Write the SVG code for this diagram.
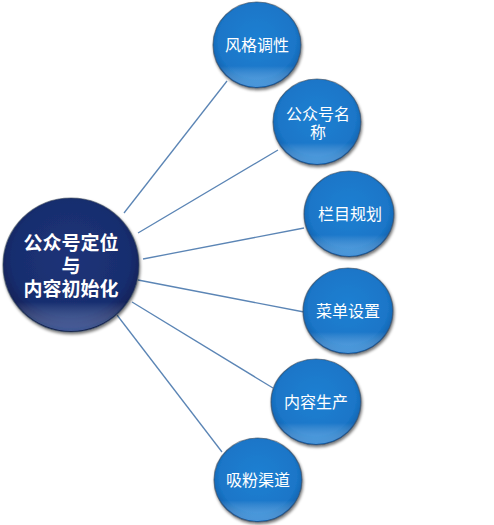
<svg xmlns="http://www.w3.org/2000/svg" width="494" height="525" viewBox="0 0 494 525">
<defs>
<radialGradient id="gBlue" cx="50%" cy="45%" r="55%">
<stop offset="0" stop-color="#1f80d2"/>
<stop offset="0.8" stop-color="#1a76c8"/>
<stop offset="0.93" stop-color="#1568b6"/>
<stop offset="1" stop-color="#0f55a0"/>
</radialGradient>
<linearGradient id="gBlueHi" x1="0" y1="0" x2="0" y2="1">
<stop offset="0" stop-color="#ffffff" stop-opacity="0"/>
<stop offset="0.75" stop-color="#ffffff" stop-opacity="0"/>
<stop offset="1" stop-color="#6fc0ff" stop-opacity="0.55"/>
</linearGradient>
<radialGradient id="gNavy" cx="50%" cy="45%" r="55%">
<stop offset="0" stop-color="#1d3479"/>
<stop offset="0.8" stop-color="#182d6e"/>
<stop offset="0.94" stop-color="#12245c"/>
<stop offset="1" stop-color="#0c1a48"/>
</radialGradient>
<linearGradient id="gNavyHi" x1="0" y1="0" x2="0" y2="1">
<stop offset="0" stop-color="#ffffff" stop-opacity="0"/>
<stop offset="0.78" stop-color="#ffffff" stop-opacity="0"/>
<stop offset="1" stop-color="#6f8fd8" stop-opacity="0.5"/>
</linearGradient>
<filter id="sh" x="-20%" y="-20%" width="140%" height="140%">
<feGaussianBlur in="SourceAlpha" stdDeviation="1.5"/>
<feOffset dx="1" dy="1.5"/>
<feComponentTransfer><feFuncA type="linear" slope="0.55"/></feComponentTransfer>
<feMerge><feMergeNode/><feMergeNode in="SourceGraphic"/></feMerge>
</filter>
</defs>
<style>
.link{stroke:#5b85b5;stroke-width:1.3;fill:none}
.rim{stroke:#3a4a5c;stroke-width:1.2;stroke-opacity:0.6}
.lbl{font-family:"Liberation Sans","Noto Sans CJK SC",sans-serif;font-size:16px;fill:#ffffff;text-anchor:middle}
.big{font-family:"Liberation Sans","Noto Sans CJK SC",sans-serif;font-size:19px;font-weight:bold;fill:#ffffff;text-anchor:middle}
</style>
<rect width="494" height="525" fill="#ffffff"/>
<g id="connectors">
<line class="link" x1="124" y1="213" x2="227" y2="81"/>
<line class="link" x1="138" y1="233" x2="278" y2="150"/>
<line class="link" x1="143" y1="259" x2="304" y2="228"/>
<line class="link" x1="138" y1="280" x2="304" y2="312"/>
<line class="link" x1="132" y1="302" x2="273" y2="388"/>
<line class="link" x1="117" y1="315" x2="222" y2="452"/>
</g>
<g id="center">
<ellipse cx="71" cy="265" rx="68" ry="67" fill="url(#gNavy)" class="rim" filter="url(#sh)"/>
<ellipse cx="71" cy="265" rx="67" ry="66" fill="url(#gNavyHi)"/>
<text class="big" x="71" y="250">公众号定位</text>
<text class="big" x="71" y="273">与</text>
<text class="big" x="71" y="296">内容初始化</text>
</g>
<g id="n1">
<ellipse cx="257" cy="45" rx="44" ry="43" fill="url(#gBlue)" class="rim" filter="url(#sh)"/>
<ellipse cx="257" cy="45" rx="43" ry="42" fill="url(#gBlueHi)"/>
<text class="lbl" x="257" y="51">风格调性</text>
</g>
<g id="n2">
<ellipse cx="317" cy="122" rx="44" ry="43" fill="url(#gBlue)" class="rim" filter="url(#sh)"/>
<ellipse cx="317" cy="122" rx="43" ry="42" fill="url(#gBlueHi)"/>
<text class="lbl" x="318" y="120">公众号名</text>
<text class="lbl" x="318" y="138">称</text>
</g>
<g id="n3">
<ellipse cx="349" cy="214" rx="45" ry="43" fill="url(#gBlue)" class="rim" filter="url(#sh)"/>
<ellipse cx="349" cy="214" rx="44" ry="42" fill="url(#gBlueHi)"/>
<text class="lbl" x="350" y="220">栏目规划</text>
</g>
<g id="n4">
<ellipse cx="348" cy="311" rx="45" ry="43" fill="url(#gBlue)" class="rim" filter="url(#sh)"/>
<ellipse cx="348" cy="311" rx="44" ry="42" fill="url(#gBlueHi)"/>
<text class="lbl" x="348" y="317">菜单设置</text>
</g>
<g id="n5">
<ellipse cx="316" cy="402" rx="45" ry="43" fill="url(#gBlue)" class="rim" filter="url(#sh)"/>
<ellipse cx="316" cy="402" rx="44" ry="42" fill="url(#gBlueHi)"/>
<text class="lbl" x="316" y="408">内容生产</text>
</g>
<g id="n6">
<ellipse cx="258" cy="480" rx="44" ry="42" fill="url(#gBlue)" class="rim" filter="url(#sh)"/>
<ellipse cx="258" cy="480" rx="43" ry="41" fill="url(#gBlueHi)"/>
<text class="lbl" x="258" y="486">吸粉渠道</text>
</g>
</svg>
